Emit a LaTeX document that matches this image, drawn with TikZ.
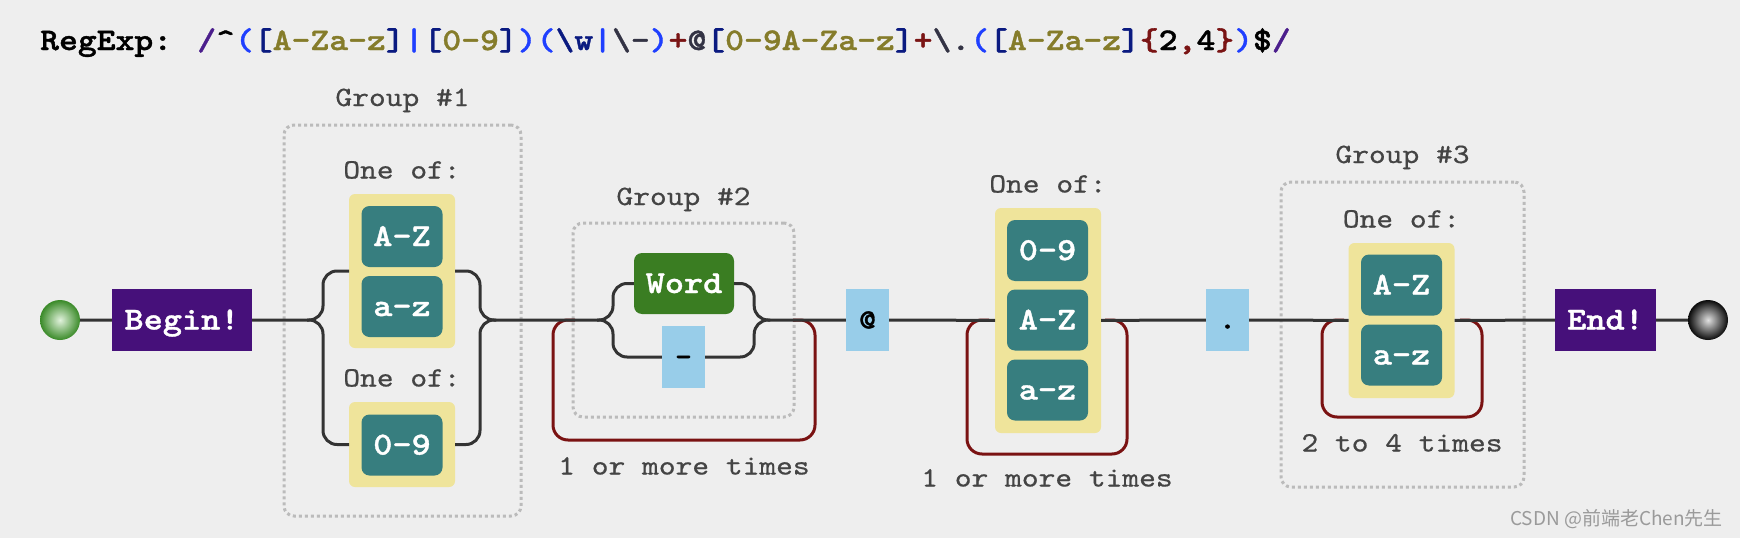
\documentclass[tikz,border=0pt]{standalone}
\usepackage{fontspec}
\newfontfamily\plainmono{lmmono10-regular.otf}[FakeStretch=1.14,FakeBold=0.6]
\newfontfamily\boldmono{lmmonolt10-bold.otf}[FakeStretch=1.14,FakeBold=1.2]
\newfontfamily\cjkfont{Noto Sans CJK SC}
\usetikzlibrary{positioning}

\definecolor{bgcol}{HTML}{EEEEEE}
\definecolor{termcol}{HTML}{46107A}
\definecolor{tealcol}{HTML}{377E7F}
\definecolor{setcol}{HTML}{EFE49B}
\definecolor{wordcol}{HTML}{3A7D22}
\definecolor{litcol}{HTML}{98CDE9}
\definecolor{loopcol}{HTML}{7A1212}
\definecolor{linecol}{HTML}{333333}
\definecolor{labcol}{HTML}{444444}
\definecolor{grpcol}{HTML}{BBBBBB}
\definecolor{markcol}{HTML}{9A9A9A}
\definecolor{startin}{RGB}{225,242,220}
\definecolor{startout}{RGB}{58,138,40}
\definecolor{stopin}{RGB}{225,225,225}
\definecolor{stopout}{RGB}{10,10,10}
% colours of the expression line
\definecolor{reslash}{HTML}{4B1E8C}
\definecolor{reparen}{HTML}{1F3FFF}
\definecolor{rebrack}{HTML}{0A1A80}
\definecolor{rechars}{HTML}{857C2A}
\definecolor{requant}{HTML}{7A1414}
\definecolor{reesc}{HTML}{333344}

\newcommand{\titlefont}{\boldmono\fontsize{31.5}{34}\selectfont}
\newcommand{\labfont}{\plainmono\fontsize{28}{30}\selectfont}
\newcommand{\boxfont}{\boldmono\fontsize{32}{34}\selectfont}
\newcommand{\litfont}{\boldmono\fontsize{28}{30}\selectfont}

\begin{document}
\begin{tikzpicture}[x=1pt,y=-1pt,
    wire/.style={draw=linecol,line width=3pt},
    branch/.style={wire,rounded corners=14pt},
    loopline/.style={draw=loopcol,line width=3pt,rounded corners=15pt},
    termbox/.style={fill=termcol,text=white,font=\boxfont,minimum height=62pt,inner sep=0pt,text height=19pt,text depth=0pt},
    rangebox/.style={fill=tealcol,text=white,font=\boxfont,rounded corners=8pt,minimum width=81pt,minimum height=61pt,inner sep=0pt,text height=19pt,text depth=0pt},
    setbox/.style={fill=setcol,rounded corners=6pt,minimum width=106pt,inner sep=0pt,outer sep=0pt},
    litbox/.style={fill=litcol,text=black,font=\litfont,minimum width=43pt,minimum height=62pt,inner sep=0pt,text height=17pt,text depth=0pt},
    groupbox/.style={draw=grpcol,line width=3pt,dash pattern=on 3pt off 3pt,rounded corners=10pt,inner sep=0pt,outer sep=0pt},
    caption/.style={text=labcol,font=\labfont,inner sep=0pt,outer sep=0pt,text height=17pt,text depth=0pt},
    ball/.style={circle,minimum size=40pt,inner sep=0pt}]
  \fill[bgcol] (0,0) rectangle (1740,538);
  \useasboundingbox (0,0) rectangle (1740,538);

  \node[anchor=base west,font=\titlefont,inner sep=0pt] (title) at (40,50) {RegExp: \textcolor{reslash}{/}\textasciicircum\textcolor{reparen}{(}\textcolor{rebrack}{[}\textcolor{rechars}{A-Za-z}\textcolor{rebrack}{]}\textcolor{reparen}{|}\textcolor{rebrack}{[}\textcolor{rechars}{0-9}\textcolor{rebrack}{]}\textcolor{reparen}{)}\textcolor{reparen}{(}\textcolor{rebrack}{\textbackslash w}\textcolor{reparen}{|}\textcolor{reesc}{\textbackslash-}\textcolor{reparen}{)}\textcolor{requant}{+}\textcolor{reesc}{@}\textcolor{rebrack}{[}\textcolor{rechars}{0-9A-Za-z}\textcolor{rebrack}{]}\textcolor{requant}{+}\textcolor{reesc}{\textbackslash.}\textcolor{reparen}{(}\textcolor{rebrack}{[}\textcolor{rechars}{A-Za-z}\textcolor{rebrack}{]}\textcolor{requant}{\{}2\textcolor{requant}{,}4\textcolor{requant}{\}}\textcolor{reparen}{)}\$\textcolor{reslash}{/}};

  % groups
  \node[groupbox,minimum width=237pt,minimum height=391pt] (grp1) at (402.5,320.5) {};
  \node[caption,above=19pt of grp1] (grp1lab) {Group \#1};
  \node[groupbox,minimum width=221pt,minimum height=194pt] (grp2) at (683.5,320) {};
  \node[caption,above=18pt of grp2] (grp2lab) {Group \#2};
  \node[groupbox,minimum width=243pt,minimum height=305pt] (grp3) at (1402.5,334.5) {};
  \node[caption,above=19pt of grp3] (grp3lab) {Group \#3};

  \node[ball,shade,inner color=startin,outer color=startout] (start) at (60,320) {};
  \node[termbox,minimum width=140pt] (begin) at (182,320) {Begin!};

  \node[setbox,minimum height=154pt] (set1a) at (402,271) {};
  \node[rangebox] (upper1) at (402,236.5) {A-Z};
  \node[rangebox] (lower1) at (402,306.5) {a-z};
  \node[caption,above=15.5pt of set1a] (oneof1a) {One of:};
  \node[setbox,minimum height=85pt] (set1b) at (402,444.5) {};
  \node[rangebox] (digit1) at (402,445) {0-9};
  \node[caption,above=15.5pt of set1b] (oneof1b) {One of:};

  \node[rangebox,fill=wordcol,minimum width=100pt] (word) at (684,283.5) {Word};
  \node[litbox] (dash) at (683.5,357) {-};
  \node[litbox] (at) at (867.5,320) {@};

  \node[setbox,minimum height=225pt] (set3) at (1048,320.5) {};
  \node[rangebox] (digit3) at (1047.5,250.5) {0-9};
  \node[rangebox] (upper3) at (1047.5,320) {A-Z};
  \node[rangebox] (lower3) at (1047.5,390) {a-z};
  \node[caption,above=15.5pt of set3] (oneof3) {One of:};
  \node[litbox] (dot) at (1227.5,320) {.};

  \node[setbox,minimum height=155pt] (set4) at (1401.5,320.5) {};
  \node[rangebox] (upper4) at (1401.5,285) {A-Z};
  \node[rangebox] (lower4) at (1401.5,355) {a-z};
  \node[caption,above=15.5pt of set4] (oneof4) {One of:};

  \node[termbox,minimum width=101pt] (end) at (1605.5,320) {End!};
  \node[ball,shade,inner color=stopin,outer color=stopout] (stop) at (1708,320) {};

  \node[caption] (times2) at (684,466) {1 or more times};
  \node[caption] (times3) at (1047,478) {1 or more times};
  \node[caption] (times4) at (1402,443) {2 to 4 times};
  \node[anchor=east,inner sep=0pt,text=markcol,font=\cjkfont\fontsize{19}{20}\selectfont] (mark) at (1723,519) {CSDN @前端老Chen先生};

  \coordinate (g1in) at (307,320);
  \coordinate (g1out) at (496,320);
  \coordinate (g2in) at (597,320);
  \coordinate (g2out) at (770,320);
  \coordinate (rep2a) at (553,320);
  \coordinate (rep2b) at (815,320);
  \coordinate (rep3a) at (967,320);
  \coordinate (rep3b) at (1127,320);
  \coordinate (rep4a) at (1322,320);
  \coordinate (rep4b) at (1482,320);

  % repeat loops
  \draw[loopline] (rep2a) ++(22,0) -- (rep2a) -- ++(0,120) -| (rep2b) -- ++(-22,0);
  \draw[loopline] (rep3a) ++(22,0) -- (rep3a) -- ++(0,134) -| (rep3b) -- ++(-22,0);
  \draw[loopline] (rep4a) ++(22,0) -- (rep4a) -- ++(0,97) -| (rep4b) -- ++(-22,0);

  \draw[wire] (start) -- (begin) (begin) -- (g1in) (g1out) -- (g2in)
    (g2out) -- (at) (at) -- (set3) (set3) -- (dot) (dot) -- (set4)
    (set4) -- (end) (end) -- (stop);

  \draw[branch] (g1in) -- ++(16,0) |- (set1a.west);
  \draw[branch] (g1in) -- ++(16,0) |- (set1b.west);
  \draw[branch] (set1a.east) -- ++(25,0) |- (g1out);
  \draw[branch] (set1b.east) -- ++(25,0) |- (g1out);
  \draw[branch] (g2in) -- ++(16,0) |- (word.west);
  \draw[branch] (g2in) -- ++(16,0) |- (dash.west);
  \draw[branch] (word.east) -- ++(20,0) |- (g2out);
  \draw[branch] (dash.east) -- ++(49,0) |- (g2out);
\end{tikzpicture}
\end{document}
